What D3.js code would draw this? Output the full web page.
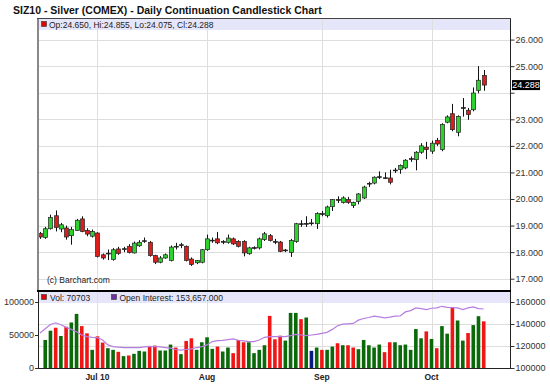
<!DOCTYPE html>
<html><head><meta charset="utf-8">
<script src="https://cdn.jsdelivr.net/npm/d3@7"></script>
<style>
body{margin:0;background:#fff}
svg{display:block;font-family:Arial,"Liberation Sans",sans-serif}
</style>
</head><body>
<svg id="chart" width="550" height="384"></svg>
<script>
// ---------------- DATA ----------------
const titleText = "SIZ10 - Silver (COMEX) - Daily Continuation Candlestick Chart";
const firstDay = "2010-06-16";
const holidays = ["2010-07-05", "2010-09-06"];
const opens  = [18.70,18.55,18.88,19.37,18.87,18.91,18.62,18.82,19.25,18.82,18.60,18.72,17.90,17.95,17.72,18.12,18.10,18.22,17.97,18.24,
                18.42,18.37,17.87,17.62,17.78,17.69,18.22,18.27,18.22,17.74,17.60,17.62,18.09,18.44,18.50,18.40,18.37,18.50,18.40,18.40,
                17.94,18.16,18.16,18.47,18.62,18.40,18.38,18.07,17.99,18.40,19.07,19.07,19.10,19.07,19.45,19.37,19.71,19.98,19.87,19.98,
                19.75,19.91,20.04,20.58,20.60,20.83,20.80,20.79,21.08,21.11,21.17,21.51,21.48,21.76,21.95,21.80,22.21,21.86,22.89,23.21,
                22.51,23.43,23.34,23.36,24.09,24.650];
const highs  = [18.76,18.95,19.41,19.57,19.10,19.00,18.95,19.25,19.35,18.90,18.85,18.75,17.95,18.10,18.15,18.20,18.20,18.30,18.40,18.45,
                18.55,18.42,17.90,17.85,17.95,18.25,18.35,18.35,18.25,17.80,17.70,18.12,18.66,18.55,18.76,18.45,18.66,18.55,18.45,18.45,
                18.20,18.22,18.55,18.76,18.68,18.50,18.42,18.12,18.50,19.10,19.20,19.35,19.25,19.50,19.55,19.75,20.00,20.10,20.10,20.08,
                19.90,20.22,20.50,20.65,20.85,21.04,21.00,21.10,21.17,21.30,21.50,21.60,21.80,22.10,22.15,22.20,22.30,22.85,23.15,23.58,
                23.15,23.80,23.43,24.20,25.00,24.855];
const lows   = [18.50,18.50,18.85,18.78,18.75,18.47,18.28,18.80,18.75,18.60,18.55,17.80,17.72,17.70,17.68,17.90,18.00,17.95,17.95,18.20,
                18.35,17.83,17.55,17.58,17.75,17.65,18.10,18.15,17.65,17.48,17.55,17.58,18.05,18.35,18.30,18.30,18.32,18.27,18.18,17.84,
                17.90,18.10,18.10,18.42,18.40,18.30,18.00,18.00,17.82,18.35,18.95,18.95,19.00,18.87,19.35,19.30,19.55,19.85,19.83,19.82,
                19.66,19.80,20.00,20.45,20.55,20.75,20.75,20.55,20.98,20.95,21.12,21.40,21.08,21.70,21.50,21.70,22.00,21.80,22.85,22.55,
                22.36,23.10,22.98,23.30,23.98,24.075];
const closes = [18.57,18.88,19.30,18.93,19.03,18.57,18.85,19.20,18.78,18.68,18.78,17.84,17.78,17.96,18.09,17.95,18.13,17.99,18.34,18.37,
                18.43,17.87,17.62,17.78,17.90,18.19,18.21,18.28,17.69,17.53,17.68,18.09,18.50,18.45,18.35,18.40,18.53,18.31,18.22,17.97,
                18.16,18.17,18.50,18.69,18.44,18.39,18.03,18.08,18.44,19.07,19.06,19.08,19.10,19.45,19.44,19.70,19.98,19.97,20.04,19.87,
                19.87,20.19,20.45,20.59,20.82,20.84,20.79,20.63,21.09,21.26,21.46,21.52,21.76,22.00,21.86,22.10,22.07,22.80,23.09,22.61,
                23.11,23.44,23.18,23.99,24.47,24.288];
const volumes = [null,42500,56500,61000,48500,62500,69000,82000,63500,52500,27500,48000,38500,30000,27500,24500,18000,19000,21500,26000,
                 25000,33500,34000,26500,26500,35500,31000,21000,41000,45000,27500,39000,46500,29000,32500,25000,31000,22500,42500,39000,
                 39000,22500,27500,34500,79000,43500,49000,41500,83500,83500,74000,76500,26000,31000,27500,27500,32500,37500,34500,34500,
                 31000,28500,42500,34500,31000,35500,24000,39000,39000,34500,35500,27500,59000,45000,55500,44000,30000,63500,52000,92500,
                 72000,41500,53000,65000,78500,70703];
// u = close up vs prior close, d = down, n = unchanged, - = no volume
const volumeDirection = ("-" + "uududuuddu" + "dduududuuu" + "dduuududdu" + "uuuduudddu" + "uuuddduuud" +
                         "unuduududd" + "uuuuudduuu" + "uuududuudu" + "uduud").split("");
const openInterest = [131800,135700,139600,141100,139300,136900,135100,133000,130000,128500,127900,127600,125500,121000,119500,118900,118600,118600,118600,118600,
                      119200,119500,119500,119200,118600,118000,116800,116200,116800,117400,118600,119500,121000,124000,124900,125200,125800,126400,125200,124600,
                      124000,124000,125500,127900,128500,128500,128500,128500,129400,130600,130000,129400,130000,130600,131500,132400,135100,138400,139900,140200,
                      140500,143500,145000,145900,147100,146500,145600,146200,147100,147400,151000,152200,154600,154000,153100,154300,154600,156100,155200,154900,
                      154600,153100,154600,155500,154000,153657];
const priceTicks = [17,18,19,20,21,22,23,24,25,26];
const volumeTicks = [0,50000,100000];
const oiTicks = [100000,120000,140000,160000];
const monthTickDates = ["2010-07-01","2010-08-02","2010-09-01","2010-10-01"];
const monthTickLabels = ["Jul 10","Aug","Sep","Oct"];
const legendPrice = "Op:24.650, Hi:24.855, Lo:24.075, Cl:24.288";
const legendVol = "Vol: 70703";
const legendOI = "Open Interest: 153,657.000";
const copyright = "(c) Barchart.com";

// ---------------- CALENDAR (trading days) ----------------
const fmt = d3.utcFormat("%Y-%m-%d");
const dates = [];
{ let d = new Date(firstDay + "T00:00:00Z");
  while (dates.length < closes.length) {
    const wd = d.getUTCDay(), s = fmt(d);
    if (wd !== 0 && wd !== 6 && !holidays.includes(s)) dates.push(s);
    d = d3.utcDay.offset(d, 1);
  } }

// ---------------- LAYOUT ----------------
const L = 38, R = 510.5;
const pTop = 18.5, pBand = 30, pBot = 290.5;
const vTop = 291.5, vBand = 303, vBot = 368;

const svg = d3.select("#chart");
svg.append("rect").attr("width",550).attr("height",384).attr("fill","#fff");

const x = d3.scaleBand().domain(d3.range(closes.length)).range([37.4, 37.4 + 5.22*closes.length]).padding(0);
const cx = i => x(i) + x.bandwidth()/2;
const y = d3.scaleLinear().domain([17,26]).range([278.7, 39.6]);
const yV = d3.scaleLinear().domain([0,100000]).range([vBot, 302]);
const yOI = d3.scaleLinear().domain([100000,160000]).range([vBot, 302]);
const last = closes[closes.length-1];

// title
svg.append("text").attr("x",13).attr("y",14).attr("font-size","10.5px").attr("font-weight","bold")
   .attr("fill","#111").text(titleText);

// legend bands
svg.append("rect").attr("x",L).attr("y",pTop).attr("width",R-L).attr("height",pBand-pTop).attr("fill","#e6e6fa");
svg.append("rect").attr("x",L).attr("y",vTop).attr("width",R-L).attr("height",vBand-vTop).attr("fill","#e6e6fa");

// grid
const grid = svg.append("g").attr("stroke","#dedede").attr("stroke-width",1).attr("shape-rendering","crispEdges");
priceTicks.forEach(t => grid.append("line").attr("x1",L).attr("x2",R).attr("y1",Math.round(y(t))+0.5).attr("y2",Math.round(y(t))+0.5));
[120000,140000].forEach(t => grid.append("line").attr("x1",L).attr("x2",R).attr("y1",Math.round(yOI(t))+0.5).attr("y2",Math.round(yOI(t))+0.5));
monthTickDates.forEach(dt => {
  const xi = Math.round(cx(dates.indexOf(dt)))+0.5;
  grid.append("line").attr("x1",xi).attr("x2",xi).attr("y1",pTop).attr("y2",pBot);
  grid.append("line").attr("x1",xi).attr("x2",xi).attr("y1",vTop).attr("y2",vBot);
});

// legends
svg.append("rect").attr("x",41.5).attr("y",21.5).attr("width",5).attr("height",5).attr("fill","#d00").attr("stroke","#333").attr("stroke-width",0.6);
svg.append("text").attr("x",49).attr("y",28).attr("font-size","8.5px").attr("fill","#222").text(legendPrice);
svg.append("rect").attr("x",41.5).attr("y",294.5).attr("width",5).attr("height",5).attr("fill","#d00").attr("stroke","#333").attr("stroke-width",0.6);
svg.append("text").attr("x",50).attr("y",301).attr("font-size","8.5px").attr("fill","#222").text(legendVol);
svg.append("rect").attr("x",111.5).attr("y",294.5).attr("width",5).attr("height",5).attr("fill","#7030a0").attr("stroke","#333").attr("stroke-width",0.6);
svg.append("text").attr("x",119.5).attr("y",301).attr("font-size","8.5px").attr("fill","#222").text(legendOI);

// candles
const cg = svg.append("g");
const idx = d3.range(closes.length);
cg.selectAll("line.wick").data(idx).join("line")
  .attr("x1",i=>Math.round(cx(i))+0.5).attr("x2",i=>Math.round(cx(i))+0.5)
  .attr("y1",i=>y(highs[i])).attr("y2",i=>y(lows[i]))
  .attr("stroke","#111").attr("stroke-width",1);
const bw = 4;
cg.selectAll("rect.body").data(idx).join("rect")
  .attr("x",i=>Math.round(cx(i))+0.5-bw/2)
  .attr("y",i=>y(Math.max(opens[i],closes[i])))
  .attr("width",bw)
  .attr("height",i=>Math.max(0.8, Math.abs(y(opens[i])-y(closes[i]))))
  .attr("fill",i=>Math.abs(closes[i]-opens[i])<0.03 ? "#111" : (closes[i]>opens[i] ? "#2fd12f" : "#dd1c1c"))
  .attr("stroke","#222").attr("stroke-width",0.7);

// copyright
svg.append("text").attr("x",47).attr("y",283).attr("font-size","8.5px").attr("fill","#222").text(copyright);

// volume bars
const vcol = {u:"#0a6a0a", d:"#f01616", n:"#0a1a80"};
svg.append("g").selectAll("rect").data(idx.filter(i=>volumes[i]!=null)).join("rect")
  .attr("x",i=>cx(i)-1.8).attr("width",3.6)
  .attr("y",i=>yV(volumes[i])).attr("height",i=>vBot-yV(volumes[i]))
  .attr("fill",i=>vcol[volumeDirection[i]]);

// open interest line
svg.append("path").datum(idx)
  .attr("d", d3.line().x(i=>cx(i)).y(i=>yOI(openInterest[i])))
  .attr("fill","none").attr("stroke","#b77ee0").attr("stroke-width",1.2);

// frames
const fr = svg.append("g").attr("shape-rendering","crispEdges");
fr.append("line").attr("x1",L-1).attr("x2",R+0.5).attr("y1",pTop).attr("y2",pTop).attr("stroke","#444").attr("stroke-width",1);
fr.append("line").attr("x1",L).attr("x2",L).attr("y1",pTop).attr("y2",pBot).attr("stroke","#888").attr("stroke-width",2);
fr.append("line").attr("x1",R).attr("x2",R).attr("y1",pTop).attr("y2",vBot).attr("stroke","#222").attr("stroke-width",1);
fr.append("line").attr("x1",L-1).attr("x2",R+0.5).attr("y1",pBot).attr("y2",pBot).attr("stroke","#000").attr("stroke-width",2);
fr.append("line").attr("x1",L).attr("x2",L).attr("y1",vTop).attr("y2",vBot).attr("stroke","#222").attr("stroke-width",1);
fr.append("line").attr("x1",L).attr("x2",R+0.5).attr("y1",vBot+0.5).attr("y2",vBot+0.5).attr("stroke","#222").attr("stroke-width",1);

// axes
function styleAxis(g){ g.select(".domain").remove(); g.selectAll("text").attr("fill","#333").attr("font-size","9px").attr("font-family","Arial, 'Liberation Sans', sans-serif"); g.selectAll("line").attr("stroke","#333"); }
const pAxis = svg.append("g").attr("transform",`translate(${R},0)`)
  .call(d3.axisRight(y).tickValues(priceTicks).tickFormat(d3.format(".3f")).tickSize(4).tickPadding(1)).call(styleAxis);
// the last-price marker hides the tick label it covers
pAxis.selectAll(".tick").filter(d => Math.abs(y(d) - y(last)) < 10).select("text").remove();
svg.append("g").attr("transform",`translate(${L},0)`)
  .call(d3.axisLeft(yV).tickValues(volumeTicks).tickFormat(d3.format("d")).tickSize(3).tickPadding(1)).call(styleAxis);
svg.append("g").attr("transform",`translate(${R},0)`)
  .call(d3.axisRight(yOI).tickValues(oiTicks).tickFormat(d3.format("d")).tickSize(4).tickPadding(1)).call(styleAxis);
const xa = svg.append("g").attr("transform",`translate(0,${vBot+0.5})`)
  .call(d3.axisBottom(x).tickValues(monthTickDates.map(dt=>dates.indexOf(dt)))
        .tickFormat((d,k)=>monthTickLabels[k]).tickSize(0).tickPadding(5));
xa.select(".domain").remove();
xa.selectAll("text").attr("font-size","8.5px").attr("font-weight","bold").attr("fill","#222");

// last price marker
svg.append("rect").attr("x",512).attr("y",y(last)-5).attr("width",28).attr("height",10).attr("fill","#000");
svg.append("text").attr("x",526).attr("y",y(last)+3.3).attr("text-anchor","middle").attr("font-size","9px").attr("fill","#fff").text(d3.format(".3f")(last));
</script>
</body></html>
